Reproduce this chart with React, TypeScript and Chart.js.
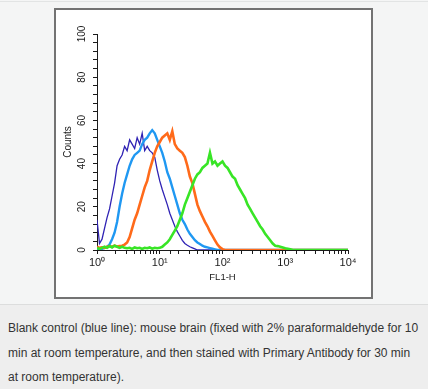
import React, { useEffect, useRef } from 'react';
import { Chart, registerables } from 'chart.js';

Chart.register(...registerables);

// Channel positions in decades (log10 of FL1-H)
const DECADES = [
  0.00, 0.04, 0.08, 0.12, 0.16, 0.20, 0.24, 0.28, 0.32, 0.36,
  0.40, 0.44, 0.48, 0.52, 0.56, 0.60, 0.64, 0.68, 0.72, 0.76,
  0.80, 0.84, 0.88, 0.92, 0.96, 1.00, 1.04, 1.08, 1.12, 1.16,
  1.20, 1.24, 1.28, 1.32, 1.36, 1.40, 1.44, 1.48, 1.52, 1.56,
  1.60, 1.64, 1.68, 1.72, 1.76, 1.80, 1.84, 1.88, 1.92, 1.96,
  2.00, 2.04, 2.08, 2.12, 2.16, 2.20, 2.24, 2.28, 2.32, 2.36,
  2.40, 2.44, 2.48, 2.52, 2.56, 2.60, 2.64, 2.68, 2.72, 2.76,
  2.80, 2.84, 2.88, 2.92, 2.96, 3.00, 3.04, 3.08, 3.12, 3.16,
  3.20, 4.00,
];

const NAVY_COUNTS = [
  14, 3, 5, 10, 15, 19, 25, 31, 39, 42,
  44, 48, 46, 51, 49, 47, 52, 49, 54, 46,
  48, 46, 45, 43, 37, 32, 28, 24.5, 21, 17,
  14, 11, 8.5, 6.5, 4.5, 3, 2.2, 1.5, 1, 0.5,
  0, 0, 0, 0, 0, 0, 0, 0, 0, 0,
  0, 0, 0, 0, 0, 0, 0, 0, 0, 0,
  0, 0, 0, 0, 0, 0, 0, 0, 0, 0,
  0, 0, 0, 0, 0, 0, 0, 0, 0, 0,
  0, 0,
];

const BLUE_COUNTS = [
  0, 0.3, 0.5, 1, 1.5, 2.5, 5, 8, 13, 20,
  26, 31, 35, 39, 42, 44, 45, 46, 49, 51,
  52, 54, 55.5, 54, 51, 48, 45, 41, 36, 33,
  29, 25, 21, 17, 14, 12, 9.5, 7.5, 6, 4.5,
  3.5, 2.8, 2, 1.5, 1.2, 0.9, 0.6, 0.3, 0, 0,
  0, 0, 0, 0, 0, 0, 0, 0, 0, 0,
  0, 0, 0, 0, 0, 0, 0, 0, 0, 0,
  0, 0, 0, 0, 0, 0, 0, 0, 0, 0,
  0, 0,
];

const ORANGE_COUNTS = [
  1.5, 1, 1.2, 1, 1.5, 1.8, 1.5, 2, 1.6, 1.8,
  2, 2.5, 3.5, 6, 10, 14, 17, 21, 25, 29,
  32, 37, 41, 45, 48, 50, 52, 53, 54, 51,
  55, 49, 47, 46, 45, 43, 39, 34, 31, 26,
  21, 18, 15.5, 13, 11, 8.5, 6.5, 4.5, 2.5, 1.2,
  0.4, 0, 0, 0, 0, 0, 0, 0, 0, 0,
  0, 0, 0, 0, 0, 0, 0, 0, 0, 0,
  0, 0, 0, 0, 0, 0, 0, 0, 0, 0,
  0, 0,
];

const GREEN_COUNTS = [
  1, 0.5, 1, 1.5, 1, 1.8, 1.2, 2, 1.5, 1,
  1.5, 1, 0.8, 1, 0.5, 1.2, 0.8, 1, 0.5, 1,
  0.8, 1.2, 0.6, 1, 0.8, 1, 1.5, 2.5, 3.5, 5,
  7, 9, 11, 14, 17, 21, 24, 27, 30, 33,
  35, 36, 38, 39, 40, 45, 40, 41, 39, 40,
  41, 39, 38, 36, 34, 33, 30, 28, 26, 24,
  21, 19, 17, 15, 13, 11, 9.5, 7.5, 6, 4.5,
  3, 2, 1.8, 1.5, 1.2, 0.8, 0.6, 0.3, 0, 0,
  0, 0,
];

const X_TICK_LABELS: Record<string, string> = {
  '1': '10\u2070',
  '10': '10\u00B9',
  '100': '10\u00B2',
  '1000': '10\u00B3',
  '10000': '10\u2074',
};
const Y_MAJOR = [0, 20, 40, 60, 80, 100];

const X_TITLE = 'FL1-H';
const Y_TITLE = 'Counts';

const CAPTION_LINES = [
  'Blank control (blue line): mouse brain (fixed with 2% paraformaldehyde for 10',
  'min at room temperature, and then stained with Primary Antibody for 30 min',
  'at room temperature).',
];

const FONT = "'Liberation Sans', Arial, Helvetica, sans-serif";

function toPoints(counts: number[]) {
  return DECADES.map((d, i) => ({ x: Math.pow(10, d), y: counts[i] }));
}

function ChartBox() {
  const ref = useRef<HTMLCanvasElement | null>(null);
  useEffect(() => {
    const canvas = ref.current;
    if (!canvas) return;
    const chart = new Chart(canvas, {
      type: 'line',
      data: {
        datasets: [
          { label: 'Sample (green)', data: toPoints(GREEN_COUNTS), borderColor: '#38e526', borderWidth: 2.6 },
          { label: 'Sample (orange)', data: toPoints(ORANGE_COUNTS), borderColor: '#ff6a1a', borderWidth: 2.6 },
          { label: 'Control (blue)', data: toPoints(BLUE_COUNTS), borderColor: '#1f98f2', borderWidth: 2.4 },
          { label: 'Blank (navy)', data: toPoints(NAVY_COUNTS), borderColor: '#2f22b4', borderWidth: 1.3 },
        ].map((d) => ({ ...d, pointRadius: 0, tension: 0, fill: false })),
      },
      options: {
        animation: false,
        responsive: false,
        devicePixelRatio: 1,
        events: [],
        layout: { padding: { left: 57, right: 80, top: 34, bottom: 10 } },
        plugins: { legend: { display: false }, tooltip: { enabled: false } },
        scales: {
          x: {
            type: 'logarithmic',
            min: 1,
            max: 10000,
            afterFit: (s: any) => { s.height = 40; },
            border: { display: true, color: '#1a1a1a', width: 1 },
            grid: { drawOnChartArea: false, drawTicks: true, tickLength: 4, color: '#1a1a1a', lineWidth: 1 },
            ticks: {
              autoSkip: false,
              maxRotation: 0,
              minRotation: 0,
              padding: 2,
              color: '#1a1a1a',
              font: { family: FONT, size: 11 },
              callback: (v: any) => X_TICK_LABELS[String(v)] ?? '',
            },
            title: { display: true, text: X_TITLE, color: '#1a1a1a', font: { family: FONT, size: 9.5 }, padding: { top: 0, bottom: 7 } },
          },
          y: {
            type: 'linear',
            min: 0,
            max: 100,
            afterFit: (s: any) => { s.width = 40; },
            border: { display: true, color: '#1a1a1a', width: 1 },
            grid: { drawOnChartArea: false, drawTicks: true, tickLength: 4, color: '#1a1a1a', lineWidth: 1 },
            ticks: {
              stepSize: 4,
              autoSkip: false,
              minRotation: 90,
              maxRotation: 90,
              crossAlign: 'center',
              padding: 2,
              color: '#1a1a1a',
              font: { family: FONT, size: 10 },
              callback: (v: any) => (Y_MAJOR.includes(Number(v)) ? String(v) : ''),
            },
            title: { display: true, text: Y_TITLE, color: '#1a1a1a', font: { family: FONT, size: 10 }, padding: { top: 5, bottom: 0 } },
          },
        },
      } as any,
    });
    return () => chart.destroy();
  }, []);
  return <canvas ref={ref} width={428} height={300} style={{ position: 'absolute', left: 0, top: 0, width: 428, height: 300 }} />;
}

export default function App() {
  useEffect(() => {
    document.body.style.margin = '0';
  }, []);
  return (
    <div style={{ position: 'absolute', left: 0, top: 0, width: 428, height: 389, background: '#f4f5f5', overflow: 'hidden', fontFamily: FONT }}>
      <div style={{ position: 'absolute', left: 0, top: 1, width: 428, height: 1, background: '#e2e4e4' }} />
      <div style={{ position: 'absolute', left: 54, top: 8, width: 315, height: 287, border: '2px solid #737373', background: '#ffffff' }} />
      <ChartBox />
      <div style={{ position: 'absolute', left: 0, top: 304, width: 428, height: 85, background: '#eeeeee', borderTop: '1px solid #dcdddd', paddingTop: 11, boxSizing: 'border-box' }}>
        {CAPTION_LINES.map((l, i) => (
          <div key={i} style={{ paddingLeft: 8, whiteSpace: 'nowrap', fontSize: 12, lineHeight: '24.5px', color: '#333333' }}>{l}</div>
        ))}
      </div>
    </div>
  );
}
